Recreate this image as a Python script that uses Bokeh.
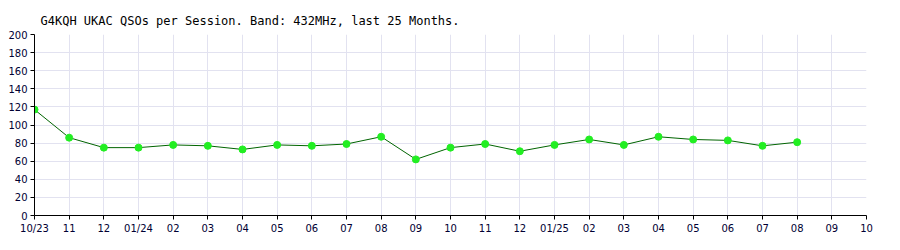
from bokeh.plotting import figure
from bokeh.embed import file_html
from bokeh.resources import INLINE
from bokeh.models import FixedTicker, Range1d

month_labels = ["10/23", "11", "12", "01/24", "02", "03", "04", "05", "06", "07", "08", "09",
                "10", "11", "12", "01/25", "02", "03", "04", "05", "06", "07", "08", "09", "10"]
qsos = [117, 86, 75, 75, 78, 77, 73, 78, 77, 79, 87, 62,
        75, 79, 71, 78, 84, 78, 87, 84, 83, 77, 81]
y_ticks = list(range(0, 201, 20))

xs = list(range(len(qsos)))

p = figure(width=900, height=250, output_backend="svg", toolbar_location=None,
           x_range=Range1d(0, len(month_labels) - 1), y_range=Range1d(0, 200),
           min_border_left=34, min_border_right=34, min_border_top=34, min_border_bottom=35)
p.outline_line_color = None
p.background_fill_color = "white"

p.title.text = "G4KQH UKAC QSOs per Session. Band: 432MHz, last 25 Months."
p.title.text_font = "DejaVu Sans Mono"
p.title.text_font_size = "12px"
p.title.text_font_style = "normal"
p.title.text_color = "#000000"
p.title.offset = 6
p.title.vertical_align = "top"

p.xaxis.ticker = FixedTicker(ticks=list(range(len(month_labels))))
p.xaxis.major_label_overrides = {i: l for i, l in enumerate(month_labels)}
p.yaxis.ticker = FixedTicker(ticks=y_ticks)

for ax in (p.xaxis, p.yaxis):
    ax.axis_line_color = "black"
    ax.major_tick_line_color = "black"
    ax.major_tick_out = 4
    ax.major_tick_in = 0
    ax.minor_tick_line_color = None
    ax.major_label_text_font = "DejaVu Sans"
    ax.major_label_text_font_size = "10px"
    ax.major_label_text_color = "#000033"
    ax.major_label_standoff = 3

p.grid.grid_line_color = "#e2e2f0"
p.grid.grid_line_width = 1

p.line(xs, qsos, line_color="#006400", line_width=1)
p.scatter(xs, qsos, size=7, fill_color="#22ee22", line_color="#22ee22")

open("out.html", "w").write(file_html(p, INLINE))
